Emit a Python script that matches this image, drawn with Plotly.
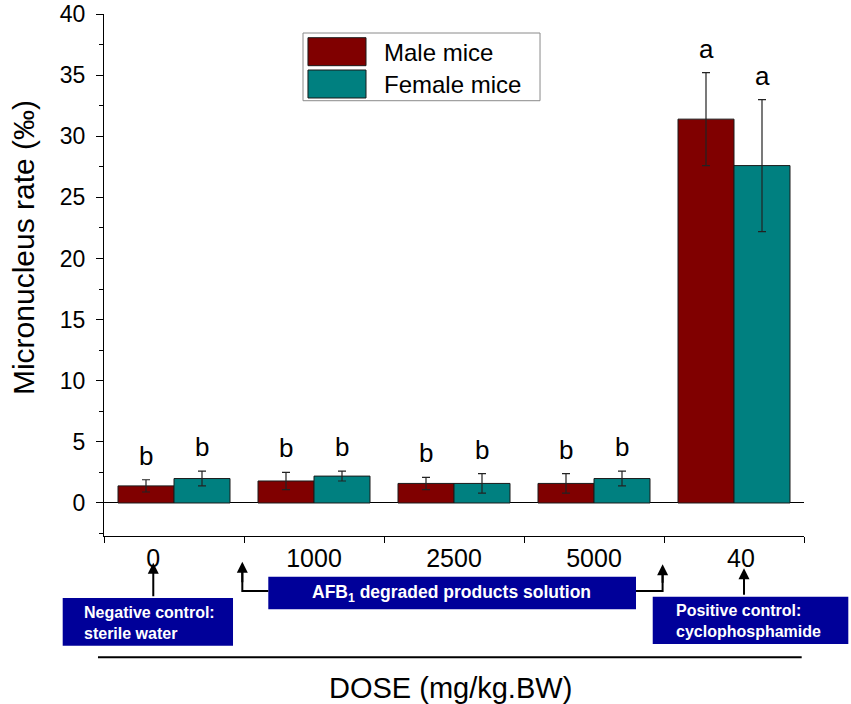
import plotly.graph_objects as go

# dose groups (mg/kg.BW) and micronucleus rates (per mille)
doses = ["0", "1000", "2500", "5000", "40"]
dose_labels = ["0\u2007\u2007\u2007", "1000", "2500", "5000", "\u200740"]
series_names = ["Male mice", "Female mice"]
male_mean = [1.4, 1.8, 1.6, 1.6, 31.4]
male_err = [0.5, 0.7, 0.5, 0.8, 3.8]
female_mean = [2.0, 2.2, 1.6, 2.0, 27.6]
female_err = [0.6, 0.4, 0.8, 0.6, 5.4]
male_letters = ["b", "b", "b", "b", "a"]
female_letters = ["b", "b", "b", "b", "a"]

MALE = "#800000"
FEMALE = "#008080"
BOX = "#000099"
FONT = "Liberation Sans, Arial, sans-serif"

fig = go.Figure()
fig.add_trace(go.Bar(x=doses, y=male_mean, name=series_names[0], marker_color=MALE,
                     marker_line=dict(color="#1a1a1a", width=1),
                     error_y=dict(type="data", array=male_err, color="#222", thickness=1.2, width=4)))
fig.add_trace(go.Bar(x=doses, y=female_mean, name=series_names[1], marker_color=FEMALE,
                     marker_line=dict(color="#1a1a1a", width=1),
                     error_y=dict(type="data", array=female_err, color="#222", thickness=1.2, width=4)))

annotations = []
shapes = []

# significance letters above the error bars
for i in range(len(doses)):
    for off, mean, err, lets in [(-0.2, male_mean, male_err, male_letters),
                                 (0.2, female_mean, female_err, female_letters)]:
        annotations.append(dict(x=i + off, y=mean[i] + err[i], xref="x", yref="y",
                                text=lets[i], showarrow=False, xanchor="center", yanchor="bottom", yshift=7,
                                font=dict(size=26, color="black", family=FONT)))

# legend drawn by hand so the swatches are large like the original
shapes.append(dict(type="rect", xref="paper", yref="paper", x0=0.2843, x1=0.6229, y0=0.8339, y1=0.9636,
                   line=dict(color="#8a8a8a", width=1), fillcolor="white"))
for name, col, yt, yb, ytxt in [(series_names[0], MALE, 0.9546, 0.9010, 0.9272),
                                (series_names[1], FEMALE, 0.8927, 0.8391, 0.8659)]:
    shapes.append(dict(type="rect", xref="paper", yref="paper", x0=0.2914, x1=0.3743, y0=yb, y1=yt,
                       line=dict(color="#1a1a1a", width=1), fillcolor=col))
    annotations.append(dict(x=0.3967, y=ytxt, xref="paper", yref="paper", text=name, showarrow=False,
                            xanchor="left", yanchor="middle", font=dict(size=24, color="black", family=FONT)))

# y axis title
annotations.append(dict(x=-0.114, y=0.552, xref="paper", yref="paper", text="Micronucleus rate (\u2030)",
                        textangle=-90, showarrow=False, xanchor="center", yanchor="middle",
                        font=dict(size=30, color="black", family=FONT)))

# blue boxes under the dose axis
boxes = [
    (-0.059, 0.1843, -0.2102, -0.1188, -0.031, -0.1667, "left", 16,
     "<b>Negative control:<br>sterile water</b>"),
    (0.2347, 0.76, -0.1404, -0.078, 0.497, -0.1092, "center", 17.5,
     "<b>AFB<sub>1</sub> degraded products solution</b>"),
    (0.7839, 1.0633, -0.2069, -0.1163, 0.8143, -0.1623, "left", 16,
     "<b>Positive control:<br>cyclophosphamide</b>"),
]
for x0, x1, y0, y1, tx, ty, anc, fs, txt in boxes:
    shapes.append(dict(type="rect", xref="paper", yref="paper", x0=x0, x1=x1, y0=y0, y1=y1,
                       line=dict(width=0), fillcolor=BOX))
    annotations.append(dict(x=tx, y=ty, xref="paper", yref="paper", text=txt, showarrow=False,
                            xanchor=anc, yanchor="middle", align="left",
                            font=dict(size=fs, color="white", family=FONT)))

# bracket for the AFB1 groups
line = dict(color="black", width=2)
shapes.append(dict(type="path", xref="paper", yref="paper",
                   path="M 0.2347 -0.1054 L 0.1976 -0.1054 L 0.1976 -0.062", line=line))
shapes.append(dict(type="path", xref="paper", yref="paper",
                   path="M 0.76 -0.1054 L 0.798 -0.1054 L 0.798 -0.066", line=line))

# arrow heads
for ax_, tip, tail in [(0.0704, -0.0511, 35), (0.1976, -0.0492, 22), (0.798, -0.0542, 20),
                       (0.9143, -0.0619, 28)]:
    annotations.append(dict(x=ax_, y=tip, xref="paper", yref="paper", text="", showarrow=True,
                            ax=0, ay=tail, arrowhead=2, arrowsize=1.1, arrowwidth=2, arrowcolor="black"))

# long line above the axis title
shapes.append(dict(type="line", xref="paper", yref="paper", x0=-0.0086, x1=0.9967, y0=-0.2324, y1=-0.2324,
                   line=dict(color="black", width=2)))
annotations.append(dict(x=0.4957, y=-0.2912, xref="paper", yref="paper", text="DOSE (mg/kg.BW)",
                        showarrow=False, xanchor="center", yanchor="middle",
                        font=dict(size=29, color="black", family=FONT)))

fig.update_layout(
    width=851, height=704,
    margin=dict(l=104, r=47, t=14, b=168),
    paper_bgcolor="white", plot_bgcolor="white",
    barmode="group", bargap=0.2, bargroupgap=0,
    showlegend=False,
    font=dict(family=FONT, color="black"),
    shapes=shapes, annotations=annotations,
)
fig.update_xaxes(type="category", tickvals=doses, ticktext=dose_labels, automargin=False,
                 showline=True, linecolor="black", linewidth=1.2,
                 ticks="outside", tickson="boundaries", ticklen=6, tickwidth=1.2, tickcolor="black",
                 tickfont=dict(size=25, family=FONT, color="black"), showgrid=False, zeroline=False)
fig.update_yaxes(range=[-2.7, 40], dtick=5, tick0=0, automargin=False, ticklabeloverflow="allow",
                 showline=True, linecolor="black", linewidth=1.2,
                 ticks="outside", ticklen=7, tickwidth=1.2, tickcolor="black",
                 minor=dict(dtick=2.5, ticks="outside", ticklen=4, tickcolor="black", showgrid=False),
                 tickfont=dict(size=23, family=FONT, color="black"), ticklabelstandoff=6,
                 showgrid=False, zeroline=True, zerolinecolor="black", zerolinewidth=1.2)

# drop the default page margin so the figure fills the window from its corner
fig.write_html("out.html", config={"displayModeBar": False},
               post_script="document.body.style.margin='0';")
